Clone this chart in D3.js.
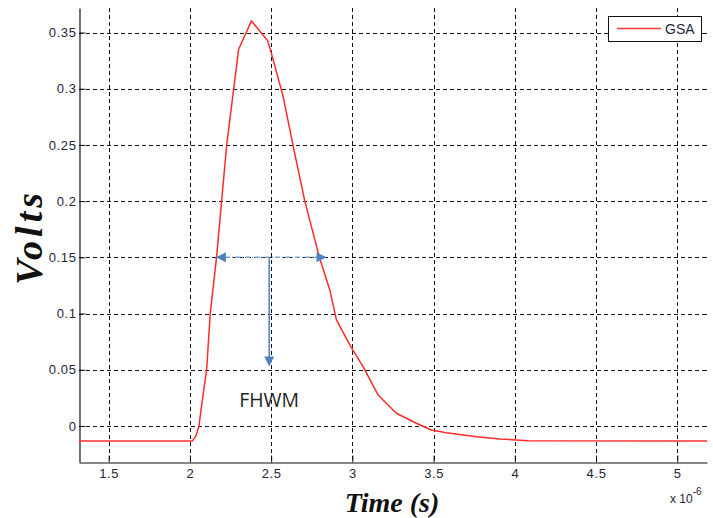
<!DOCTYPE html>
<html>
<head>
<meta charset="utf-8">
<script src="https://cdn.jsdelivr.net/npm/d3@7"></script>
<style>
  html, body { margin: 0; padding: 0; background: #fff; }
  svg { display: block; }
</style>
</head>
<body>
<svg id="chart" width="713" height="518"></svg>
<script>
// Pulse response (time in microseconds, x 10^-6 s; amplitude in volts)
const time = [1.317, 2.015, 2.035, 2.055, 2.071, 2.103, 2.125, 2.164, 2.226, 2.300, 2.379, 2.478, 2.496,
  2.574, 2.635, 2.707, 2.797, 2.861, 2.902, 2.990, 3.066, 3.158, 3.271, 3.394, 3.486, 3.579, 3.763,
  3.907, 4.081, 5.183];
const volts = [-0.0133, -0.0133, -0.0095, -0.0006, 0.0172, 0.050, 0.100, 0.150, 0.2494, 0.3351, 0.3603,
  0.3428, 0.3345, 0.293, 0.2494, 0.2002, 0.150, 0.121, 0.0943, 0.0706, 0.0528, 0.0276, 0.0113,
  0.0024, -0.0036, -0.006, -0.0095, -0.0116, -0.0131, -0.0133];

const xTicks = [1.5, 2, 2.5, 3, 3.5, 4, 4.5, 5];
const yTicks = [0, 0.05, 0.1, 0.15, 0.2, 0.25, 0.3, 0.35];
const seriesName = "GSA";

// Full-width-at-half-maximum marker
const fwhmLevel = [0.15];
const fwhmSpan = [2.160, 2.841];
const fwhmDrop = [2.488, 0.0528];
const fwhmLabel = "FHWM";

const svg = d3.select("#chart");
const x = d3.scaleLinear().domain([1.3173, 5.183]).range([79, 707]);
const y = d3.scaleLinear().domain([-0.0318, 0.3718]).range([461.7, 8]);
const [x0, x1] = x.range();
const [y0, y1] = y.range();

// Dashed grid
const grid = svg.append("g").attr("stroke", "#111").attr("stroke-width", 1)
  .attr("stroke-dasharray", "4,3").attr("fill", "none");
grid.selectAll("line.v").data(xTicks).join("line").attr("class", "v")
  .attr("x1", d => Math.round(x(d)) + 0.5).attr("x2", d => Math.round(x(d)) + 0.5)
  .attr("y1", y1).attr("y2", y0);
grid.selectAll("line.h").data(yTicks).join("line").attr("class", "h")
  .attr("y1", d => Math.round(y(d)) + 0.5).attr("y2", d => Math.round(y(d)) + 0.5)
  .attr("x1", x0).attr("x2", x1);

// Axes (ticks point inward)
const fontTicks = "Liberation Sans, Arial, sans-serif";
const xAxis = svg.append("g").attr("transform", `translate(0,${Math.round(y0) + 0.5})`)
  .call(d3.axisBottom(x).tickValues(xTicks).tickSizeInner(-7).tickSizeOuter(0).tickPadding(6)
    .tickFormat(d3.format("")));
const yAxis = svg.append("g").attr("transform", `translate(${x0 + 0.5},0)`)
  .call(d3.axisLeft(y).tickValues(yTicks).tickSizeInner(-6).tickSizeOuter(0).tickPadding(3)
    .tickFormat(d => d === 0 ? "0" : d3.format("")(d)));
[xAxis, yAxis].forEach(a => {
  a.select(".domain").attr("stroke", "#111").attr("stroke-width", 1.2);
  a.selectAll(".tick line").attr("stroke", "#111").attr("stroke-width", 1);
  a.selectAll(".tick text").attr("fill", "#25253a").style("font-family", fontTicks)
    .style("font-size", "13px").style("letter-spacing", "0.6px");
});
// Right-hand inner ticks
svg.append("g").selectAll("line").data(yTicks).join("line")
  .attr("x1", x1 - 5).attr("x2", x1)
  .attr("y1", d => Math.round(y(d)) + 0.5).attr("y2", d => Math.round(y(d)) + 0.5)
  .attr("stroke", "#111");

// Exponent note
const ex = svg.append("text").attr("x", 670).attr("y", 503)
  .attr("fill", "#25253a").style("font-family", fontTicks).style("font-size", "12px");
ex.append("tspan").text("x 10");
ex.append("tspan").attr("dy", -8).style("font-size", "10px").text("-6");

// Series
const line = d3.line().x((d, i) => x(time[i])).y(d => y(d));
svg.append("path").datum(volts).attr("d", line)
  .attr("fill", "none").attr("stroke", "#ff2b2b").attr("stroke-width", 1.5)
  .attr("stroke-linejoin", "round");

// FWHM arrows
const blue = "#4f81bd";
const hy = y(fwhmLevel[0]);
const hxA = x(fwhmSpan[0]), hxB = x(fwhmSpan[1]);
svg.append("line").attr("x1", hxA + 9).attr("x2", hxB - 9).attr("y1", hy).attr("y2", hy)
  .attr("stroke", "#79a3d6").attr("stroke-width", 1.5).attr("stroke-dasharray", "5,2,1,2");
svg.append("path").attr("fill", blue)
  .attr("d", `M${hxA},${hy} L${hxA + 10},${hy - 5} L${hxA + 10},${hy + 5} Z`);
svg.append("path").attr("fill", blue)
  .attr("d", `M${hxB},${hy} L${hxB - 10},${hy - 5} L${hxB - 10},${hy + 5} Z`);
const vx = x(fwhmDrop[0]), vy = y(fwhmDrop[1]);
svg.append("line").attr("x1", vx).attr("x2", vx).attr("y1", hy).attr("y2", vy - 9)
  .attr("stroke", blue).attr("stroke-width", 1.5);
svg.append("path").attr("fill", blue)
  .attr("d", `M${vx},${vy} L${vx - 5},${vy - 10} L${vx + 5},${vy - 10} Z`);
svg.append("text").attr("x", vx).attr("y", 407).attr("text-anchor", "middle")
  .attr("fill", "#1f1f2a").style("font-family", "Open Sans, Noto Sans, sans-serif").style("font-size", "19.5px")
  .text(fwhmLabel);

// Legend
const lg = svg.append("g");
lg.append("rect").attr("x", 608.5).attr("y", 16.5).attr("width", 93).attr("height", 25)
  .attr("fill", "#fff").attr("stroke", "#111").attr("stroke-width", 1);
lg.append("line").attr("x1", 617).attr("x2", 661).attr("y1", 28.5).attr("y2", 28.5)
  .attr("stroke", "#ff3b3b").attr("stroke-width", 1.5);
lg.append("text").attr("x", 665).attr("y", 34).attr("fill", "#25253a")
  .style("font-family", fontTicks).style("font-size", "14px").text(seriesName);

// Axis titles
const serif = "Liberation Serif, Times New Roman, serif";
svg.append("text").attr("x", 392).attr("y", 512).attr("text-anchor", "middle")
  .style("font-family", serif).style("font-weight", "bold").style("font-style", "italic")
  .style("font-size", "28px").attr("fill", "#111").text("Time (s)");
svg.append("text").attr("transform", "translate(42,237) rotate(-90)").attr("text-anchor", "middle")
  .style("font-family", serif).style("font-weight", "bold").style("font-style", "italic")
  .style("font-size", "38px").style("letter-spacing", "4px").attr("fill", "#111").text("Volts");
</script>
</body>
</html>
